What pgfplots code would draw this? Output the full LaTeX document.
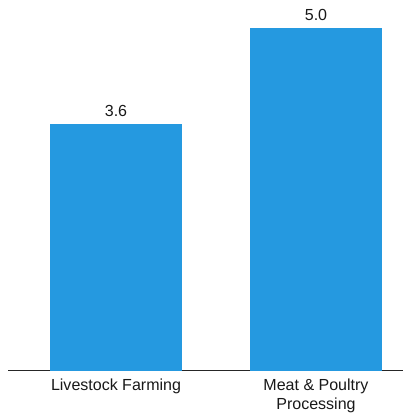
\documentclass[border=0pt]{standalone}
\usepackage{pgfplots}
\pgfplotsset{compat=1.18}
\usepackage{fontspec}
\setmainfont{Liberation Sans}
\definecolor{barblue}{RGB}{37,153,224}
\begin{document}
\begin{tikzpicture}
\begin{axis}[
  name=ax,
  width=393bp, height=369bp, scale only axis,
  xmin=-0.540, xmax=1.435,
  ymin=0, ymax=5.41,
  axis x line*=bottom,
  axis y line=none,
  x axis line style={draw=black!85, line width=0.8pt, -},
  xtick={0,1},
  xticklabels={Livestock Farming, {Meat \& Poultry\\Processing}},
  major tick length=0pt,
  xticklabel style={align=center, font=\fontsize{16}{19}\selectfont, inner sep=0pt, yshift=-8bp, text=black!90},
  ytick=\empty,
  /pgf/number format/assume math mode=true,
  nodes near coords,
  nodes near coords style={font=\fontsize{16}{19}\selectfont, inner sep=0pt, anchor=south, yshift=7bp, text=black!90,
    /pgf/number format/.cd, fixed, fixed zerofill, precision=1},
  clip=false,
]
\addplot[ybar, bar width=131bp, fill=barblue, draw=none] coordinates {(0,3.6) (1,5.0)};
\end{axis}
\path ([xshift=-8bp]ax.south west) rectangle (ax.north east);
\end{tikzpicture}
\end{document}
